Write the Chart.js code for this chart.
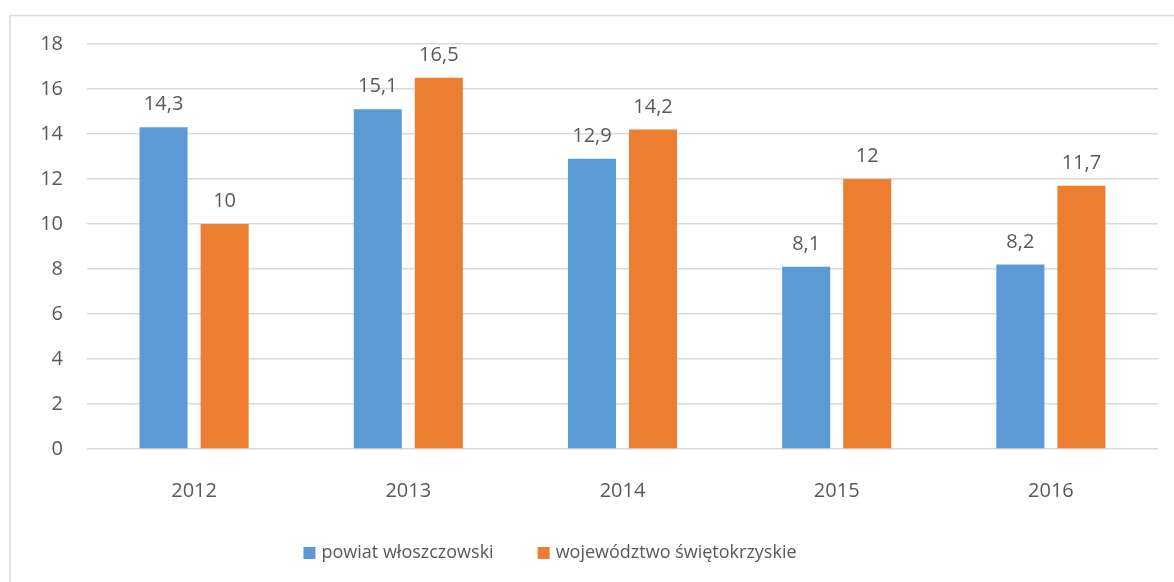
<!DOCTYPE html>
<html>
<head>
<meta charset="utf-8">
<script src="https://cdn.jsdelivr.net/npm/chart.js@4"></script>
<style>
  html, body { margin: 0; padding: 0; background: #fff; }
  #wrap { width: 1174px; height: 582px; position: relative; }
</style>
</head>
<body>
<div id="wrap"><canvas id="chart"></canvas></div>
<script>
"use strict";
const years = ['2012', '2013', '2014', '2015', '2016'];
const powiat = [14.3, 15.1, 12.9, 8.1, 8.2];
const wojewodztwo = [10, 16.5, 14.2, 12, 11.7];
const seriesNames = ['powiat włoszczowski', 'województwo świętokrzyskie'];
const yTicks = [0, 2, 4, 6, 8, 10, 12, 14, 16, 18];

const textColor = '#595959';
const fontFamily = '"Open Sans", "Noto Sans", sans-serif';

// light frame round the chart, like the office export
const framePlugin = {
  id: 'frame',
  beforeDraw(chart) {
    const ctx = chart.ctx;
    ctx.save();
    ctx.strokeStyle = '#d9d9d9';
    ctx.lineWidth = 1.5;
    ctx.beginPath();
    ctx.moveTo(10, chart.height);
    ctx.lineTo(10, 15.5);
    ctx.lineTo(chart.width, 15.5);
    ctx.stroke();
    ctx.restore();
  }
};

// value labels above bars, decimal comma
const valueLabels = {
  id: 'valueLabels',
  afterDatasetsDraw(chart) {
    const ctx = chart.ctx;
    ctx.save();
    ctx.fillStyle = textColor;
    ctx.font = '20px ' + fontFamily;
    ctx.textAlign = 'center';
    ctx.textBaseline = 'alphabetic';
    chart.data.datasets.forEach((ds, i) => {
      chart.getDatasetMeta(i).data.forEach((bar, j) => {
        const txt = String(ds.data[j]).replace('.', ',');
        ctx.fillText(txt, bar.x, bar.y - 17);
      });
    });
    ctx.restore();
  }
};

// legend drawn by hand so the item spacing can be wide without growing its height
const bottomLegend = {
  id: 'bottomLegend',
  afterDraw(chart) {
    const ctx = chart.ctx;
    ctx.save();
    ctx.font = '18px ' + fontFamily;
    const box = 12, gap = 6, itemGap = 44;
    const items = chart.data.datasets.map(ds => ({
      text: ds.label, color: ds.backgroundColor, w: box + gap + ctx.measureText(ds.label).width
    }));
    const total = items.reduce((s, it) => s + it.w, 0) + itemGap * (items.length - 1);
    let x = 550 - total / 2;
    const y = 553;
    ctx.textBaseline = 'middle';
    ctx.textAlign = 'left';
    items.forEach(it => {
      ctx.fillStyle = it.color;
      ctx.fillRect(x, y - box / 2, box, box);
      ctx.fillStyle = textColor;
      ctx.fillText(it.text, x + box + gap, y);
      x += it.w + itemGap;
    });
    ctx.restore();
  }
};

new Chart(document.getElementById('chart'), {
  type: 'bar',
  data: {
    labels: years,
    datasets: [
      { label: seriesNames[0], data: powiat, backgroundColor: '#5B9BD5' },
      { label: seriesNames[1], data: wojewodztwo, backgroundColor: '#ED7D31' }
    ]
  },
  options: {
    responsive: true,
    maintainAspectRatio: false,
    animation: false,
    categoryPercentage: 0.57,
    barPercentage: 0.787,
    layout: { padding: { left: 0, right: 16, top: 44, bottom: 49 } },
    scales: {
      x: {
        grid: { display: false, drawTicks: false },
        border: { display: false },
        ticks: { color: textColor, font: { family: fontFamily, size: 20 }, padding: 30 },
        afterFit(scale) { scale.height = 84; }
      },
      y: {
        min: 0,
        max: 18,
        afterBuildTicks(scale) { scale.ticks = yTicks.map(v => ({ value: v })); },
        grid: { color: '#d9d9d9', lineWidth: 1.5, drawTicks: false },
        border: { display: false },
        ticks: { color: textColor, font: { family: fontFamily, size: 20 }, padding: 24 },
        afterFit(scale) { scale.width = 87; }
      }
    },
    plugins: {
      tooltip: { enabled: false },
      legend: { display: false }
    }
  },
  plugins: [framePlugin, valueLabels, bottomLegend]
});
</script>
</body>
</html>
